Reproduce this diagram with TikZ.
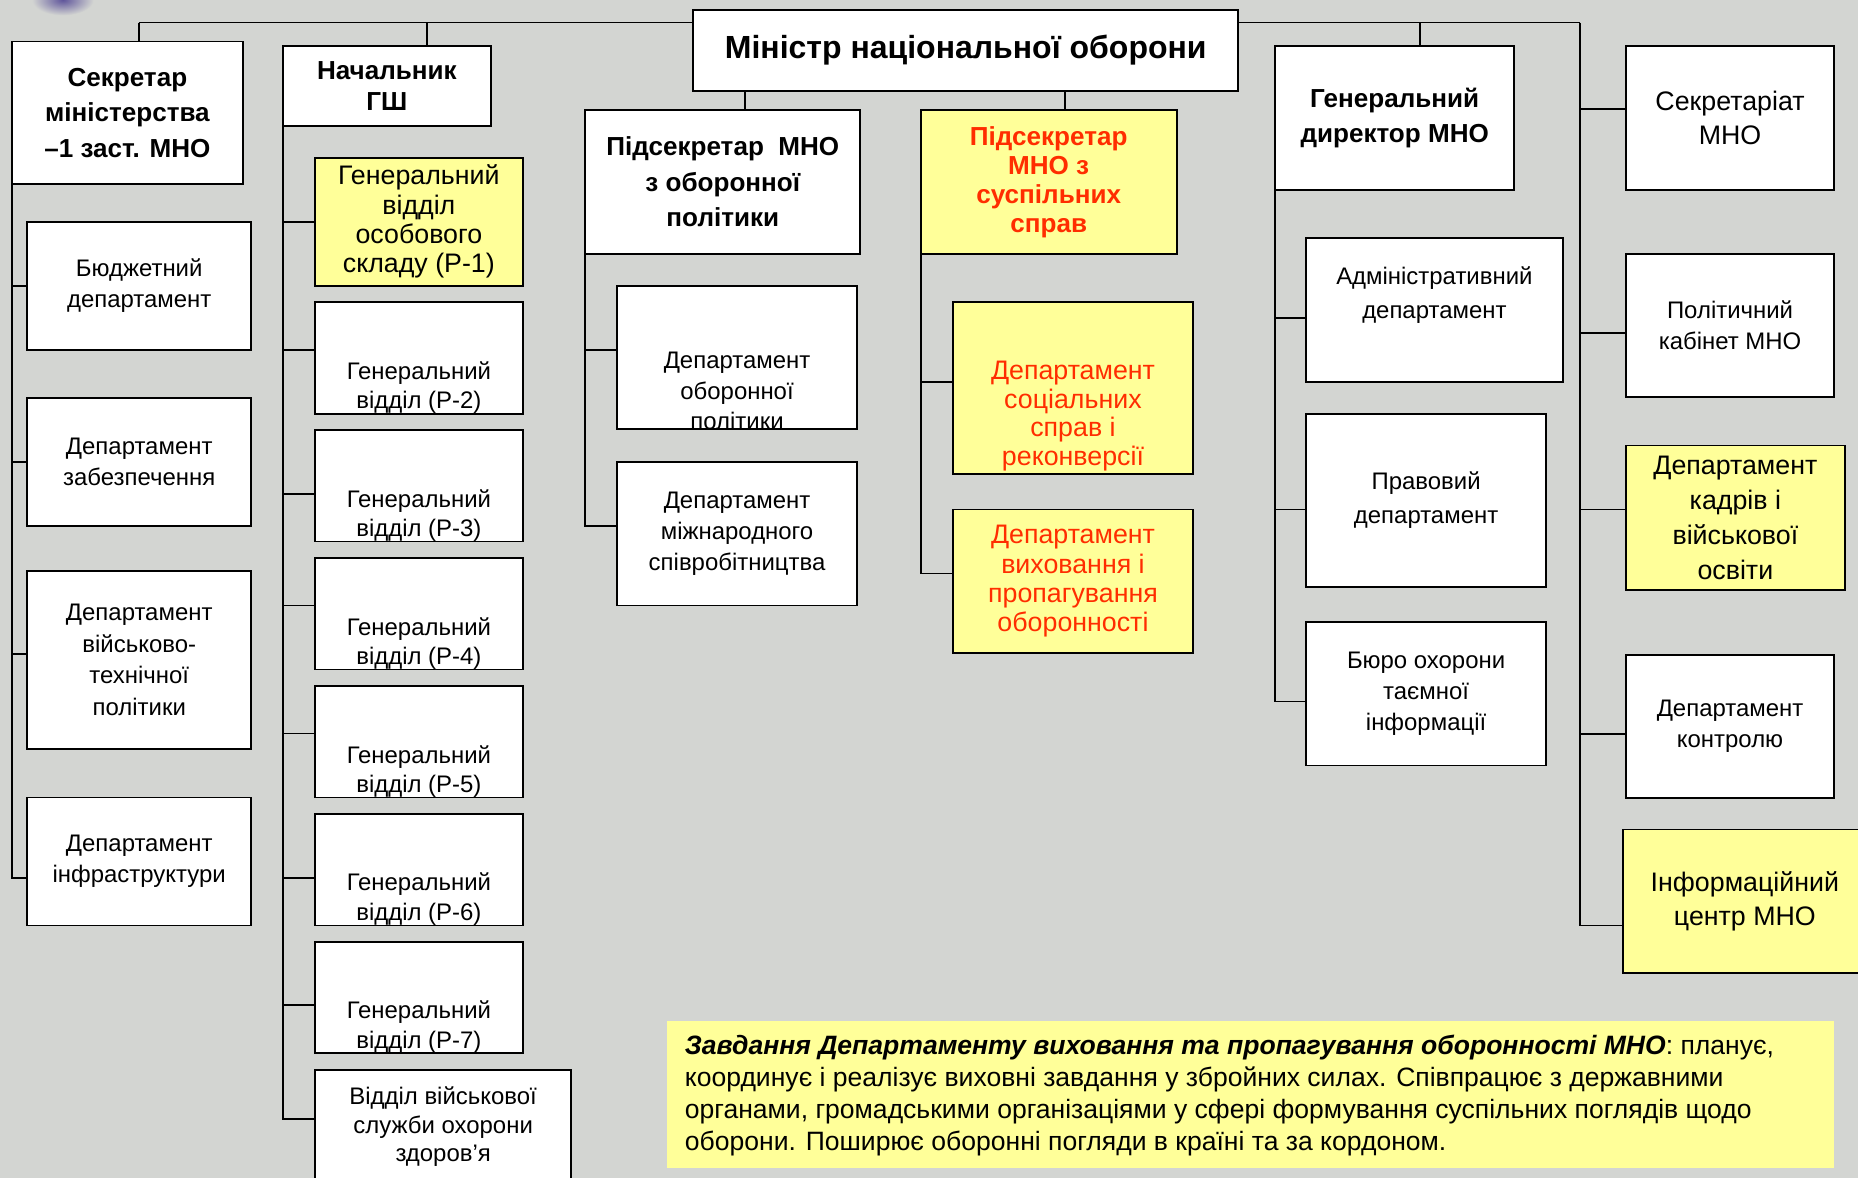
\documentclass[tikz,border=0pt]{standalone}
\usepackage{fontspec}
\setmainfont{Liberation Sans}
\definecolor{bgc}{RGB}{211,213,210}
\definecolor{yel}{RGB}{255,255,153}
\definecolor{redt}{RGB}{255,45,0}
\definecolor{logoc}{RGB}{95,85,155}
\tikzset{
 orgbox/.style={draw=black, fill=white, line width=1.6pt, inner sep=0pt, outer sep=0pt, align=center, text=black},
 ybox/.style={orgbox, fill=yel},
 conn/.style={draw=black, line width=1.6pt},
 txt/.style={inner sep=0pt, outer sep=0pt, align=center, text=black},
 fs/.style 2 args={font=\fontsize{#1}{#2}\selectfont},
 fb/.style 2 args={font=\fontsize{#1}{#2}\selectfont\bfseries},
 wh/.style 2 args={minimum width=#1pt, minimum height=#2pt},
}
\begin{document}
\begin{tikzpicture}[x=1pt,y=-1pt]
\useasboundingbox (0,0) rectangle (1568,994);
\fill[bgc] (0,0) rectangle (1568,994);
\shade[inner color=logoc, outer color=bgc] (53,0) ellipse (26 and 13);

% top level
\node[orgbox, wh={460}{68}, fb={27}{30}] (min) at (815,42.5) {Міністр національної оборони};
\node[orgbox, wh={195}{120}, fb={22}{30}] (sec) at (107.5,95) {Секретар\\міністерства\\–1 заст. МНО};
\node[orgbox, wh={175}{67}, fb={22}{26}] (gsh) at (326.5,72.5) {Начальник\\ГШ};
\node[orgbox, wh={232}{121}, fb={22}{30}] (us1) at (610,153.5) {Підсекретар\ \ МНО\\з оборонної\\політики};
\node[ybox, wh={216}{121}, fb={22}{24.5}, text=redt] (us2) at (885,153.5) {Підсекретар\\МНО з\\суспільних\\справ};
\node[orgbox, wh={202}{121}, fb={22}{29}] (gd) at (1177,99.5) {Генеральний\\директор МНО};
\node[orgbox, wh={176}{121}, fs={22.6}{29}] (secr) at (1460,99.5) {Секретаріат\\МНО};

% left column
\node[orgbox, wh={189}{108}, fs={20.2}{26.5}] (bud) at (117.5,241) {Бюджетний\\департамент};
\node[orgbox, wh={189}{108}, fs={20.2}{26.5}] (zab) at (117.5,390) {Департамент\\забезпечення};
\node[orgbox, wh={189}{150}, fs={20.2}{26.7}] (vtp) at (117.5,557) {Департамент\\військово-\\технічної\\політики};
\node[orgbox, wh={189}{108}, fs={20.2}{26.5}] (inf) at (117.5,727) {Департамент\\інфраструктури};

% general staff column
\node[ybox, wh={175}{108}, fs={22.6}{24.7}] (p1) at (353.5,187) {Генеральний\\відділ\\особового\\складу (Р-1)};
\node[orgbox, wh={175}{94}] (p2) at (353.5,302) {};
\node[orgbox, wh={175}{94}] (p3) at (353.5,410) {};
\node[orgbox, wh={175}{94}] (p4) at (353.5,518) {};
\node[orgbox, wh={175}{94}] (p5) at (353.5,626) {};
\node[orgbox, wh={175}{94}] (p6) at (353.5,734) {};
\node[orgbox, wh={175}{94}] (p7) at (353.5,842) {};
\node[txt, fs={20.2}{25}] (p2t) at (353.5,327) {Генеральний\\відділ (Р-2)};
\node[txt, fs={20.2}{25}] (p3t) at (353.5,435) {Генеральний\\відділ (Р-3)};
\node[txt, fs={20.2}{25}] (p4t) at (353.5,543) {Генеральний\\відділ (Р-4)};
\node[txt, fs={20.2}{25}] (p5t) at (353.5,651) {Генеральний\\відділ (Р-5)};
\node[txt, fs={20.2}{25}] (p6t) at (353.5,759) {Генеральний\\відділ (Р-6)};
\node[txt, fs={20.2}{25}] (p7t) at (353.5,867) {Генеральний\\відділ (Р-7)};
\node[orgbox, wh={216}{110}] (hlth) at (374,958) {};
\node[txt, fs={20.2}{24}] (hlthT) at (374,951) {Відділ військової\\служби охорони\\здоров’я};

% defence policy column
\node[orgbox, wh={202}{121}] (dp) at (622,301.5) {};
\node[txt, fs={20.2}{26}] (dpt) at (622,330) {Департамент\\оборонної\\політики};
\node[orgbox, wh={202}{121}, fs={20.2}{26.5}] (mc) at (622,450.5) {Департамент\\міжнародного\\співробітництва};

% public affairs column
\node[ybox, wh={203}{145}] (soc) at (905.5,327.5) {};
\node[txt, fs={22.6}{24}, text=redt] (soct) at (905.5,351) {Департамент\\соціальних\\справ і\\реконверсії};
\node[ybox, wh={203}{121}, fs={22.6}{24.7}, text=redt] (vyh) at (905.5,490.5) {Департамент\\виховання і\\пропагування\\оборонності};

% general director column
\node[orgbox, wh={217}{121}] (adm) at (1210.5,261.5) {};
\node[txt, fs={20.2}{28}] (admt) at (1210.5,249) {Адміністративний\\департамент};
\node[orgbox, wh={203}{146}, fs={20.2}{28}] (prav) at (1203.5,422) {Правовий\\департамент};
\node[orgbox, wh={203}{121}, fs={20.2}{26.5}] (buro) at (1203.5,585.5) {Бюро охорони\\таємної\\інформації};

% right column
\node[orgbox, wh={176}{121}, fs={20.2}{26.5}] (pol) at (1460,274.5) {Політичний\\кабінет МНО};
\node[ybox, wh={185}{122}, fs={22.6}{29.5}] (kadr) at (1464.5,437) {Департамент\\кадрів і\\військової\\освіти};
\node[orgbox, wh={176}{121}, fs={20.2}{26}] (kontr) at (1460,613) {Департамент\\контролю};
\node[ybox, wh={205}{121}, fs={22.6}{29}] (info) at (1472.5,760.5) {Інформаційний\\центр МНО};

% note
\node[fill=yel, inner sep=0pt, outer sep=0pt, wh={985}{124}, anchor=north west] (note) at (563,862) {};
\node[txt, align=left, fs={22.4}{27}, anchor=west] (notet) at (578,924.5) {\textbf{\textit{Завдання Департаменту виховання та пропагування оборонності МНО}}: планує,\\координує і реалізує виховні завдання у збройних силах. Співпрацює з державними\\органами, громадськими організаціями у сфері формування суспільних поглядів щодо\\оборони. Поширює оборонні погляди в країні та за кордоном.};

% connectors
\coordinate (tl) at (117,19);
\coordinate (tr) at (1333,19);
\coordinate (g0) at (360,19);
\coordinate (d0) at (1198,19);
\draw[conn] (tl) -- (min.west |- tl);
\draw[conn] (min.east |- tr) -- (tr);
\draw[conn] (tl) -- (tl |- sec.north);
\draw[conn] (g0) -- (g0 |- gsh.north);
\draw[conn] (d0) -- (d0 |- gd.north);
\draw[conn] ([xshift=-186pt]min.south) -- ([xshift=-186pt]min.south |- us1.north);
\draw[conn] ([xshift=84pt]min.south) -- ([xshift=84pt]min.south |- us2.north);

% left spine
\draw[conn] (sec.south west) |- ([yshift=-13.7pt]inf.west);
\draw[conn] (sec.south west |- bud.west) -- (bud.west);
\draw[conn] (sec.south west |- zab.west) -- (zab.west);
\draw[conn] ([yshift=5pt]sec.south west |- vtp.west) -- ([yshift=5pt]vtp.west);

% general staff spine
\draw[conn] (gsh.south west) |- ([yshift=13.8pt]hlth.west);
\draw[conn] (gsh.south west |- p1.west) -- (p1.west);
\draw[conn] ([yshift=7pt]gsh.south west |- p2.west) -- ([yshift=7pt]p2.west);
\draw[conn] ([yshift=-7pt]gsh.south west |- p3.west) -- ([yshift=-7pt]p3.west);
\draw[conn] ([yshift=7pt]gsh.south west |- p4.west) -- ([yshift=7pt]p4.west);
\draw[conn] ([yshift=7pt]gsh.south west |- p5.west) -- ([yshift=7pt]p5.west);
\draw[conn] ([yshift=-7pt]gsh.south west |- p6.west) -- ([yshift=-7pt]p6.west);
\draw[conn] ([yshift=-6pt]gsh.south west |- p7.west) -- ([yshift=-6pt]p7.west);

% defence policy spine
\draw[conn] (us1.south west) |- ([yshift=6.5pt]mc.west);
\draw[conn] ([yshift=6pt]us1.south west |- dp.west) -- ([yshift=6pt]dp.west);

% public affairs spine
\draw[conn] (us2.south west) |- ([yshift=6.5pt]vyh.west);
\draw[conn] ([yshift=5.5pt]us2.south west |- soc.west) -- ([yshift=5.5pt]soc.west);

% general director spine
\draw[conn] (gd.south west) |- ([yshift=-6.5pt]buro.west);
\draw[conn] ([yshift=-6.5pt]gd.south west |- adm.west) -- ([yshift=-6.5pt]adm.west);
\draw[conn] ([yshift=-8pt]gd.south west |- prav.west) -- ([yshift=-8pt]prav.west);

% right spine
\draw[conn] (tr) |- ([yshift=-20.5pt]info.west);
\draw[conn] ([yshift=7.5pt]tr |- secr.west) -- ([yshift=7.5pt]secr.west);
\draw[conn] ([yshift=-6.5pt]tr |- pol.west) -- ([yshift=-6.5pt]pol.west);
\draw[conn] ([yshift=7pt]tr |- kadr.west) -- ([yshift=7pt]kadr.west);
\draw[conn] ([yshift=-6.5pt]tr |- kontr.west) -- ([yshift=-6.5pt]kontr.west);
\end{tikzpicture}
\end{document}
